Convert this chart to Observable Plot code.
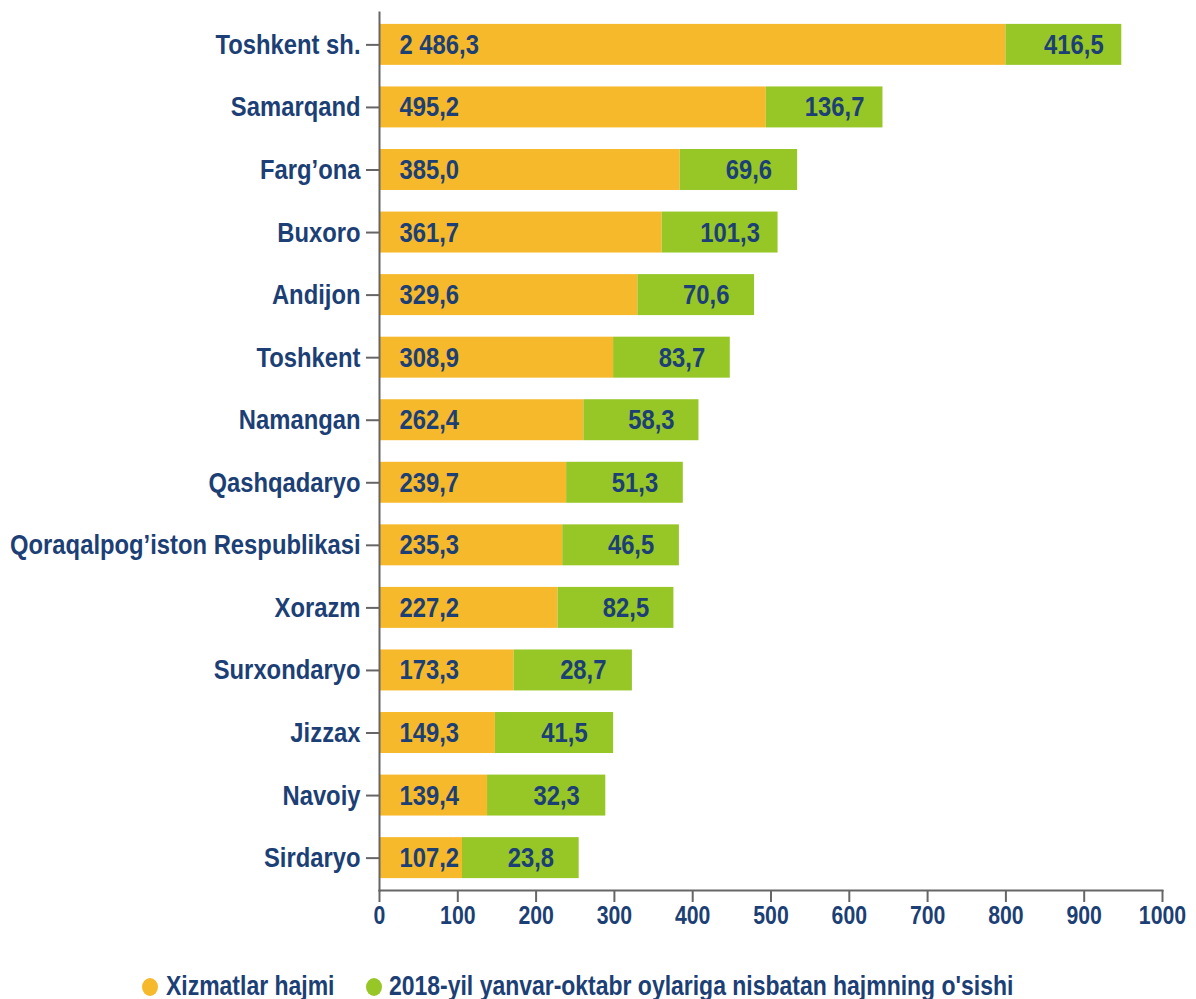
<!DOCTYPE html>
<html>
<head>
<meta charset="utf-8">
<script src="https://cdn.jsdelivr.net/npm/d3@7"></script>
<script src="https://cdn.jsdelivr.net/npm/@observablehq/plot@0.6"></script>
<style>
  body { margin: 0; background: #fff; font-family: "Liberation Sans", Arial, sans-serif; }
  #legend { position: relative; height: 49px; font-weight: bold; font-size: 28px; color: #1c3f75; }
  .item { position: absolute; top: 22px; line-height: 28px; white-space: nowrap; transform: scaleX(0.82); transform-origin: 0 50%; }
  .dot { position: absolute; width: 16px; height: 18px; border-radius: 50%; top: 28px; }
</style>
</head>
<body>
<div id="chart"></div>
<div id="legend"></div>
<script>
const regions = ["Toshkent sh.", "Samarqand", "Farg’ona", "Buxoro", "Andijon", "Toshkent", "Namangan", "Qashqadaryo", "Qoraqalpog’iston Respublikasi", "Xorazm", "Surxondaryo", "Jizzax", "Navoiy", "Sirdaryo"];
const services = [2486.3, 495.2, 385.0, 361.7, 329.6, 308.9, 262.4, 239.7, 235.3, 227.2, 173.3, 149.3, 139.4, 107.2];
const growth = [416.5, 136.7, 69.6, 101.3, 70.6, 83.7, 58.3, 51.3, 46.5, 82.5, 28.7, 41.5, 32.3, 23.8];
// bar extents as drawn in the reference (axis units)
const servicesDrawn = [800, 494, 384, 361, 330, 299, 261, 239, 234, 228, 172, 148, 138, 106];
const growthDrawn = [148, 149, 150, 148, 149, 149, 147, 149, 149, 148, 151, 151, 151, 149];
const xTicks = [0, 100, 200, 300, 400, 500, 600, 700, 800, 900, 1000];
const seriesNames = ["Xizmatlar hajmi", "2018-yil yanvar-oktabr oylariga nisbatan hajmning o'sishi"];
const colors = ["#f6b92b", "#97c627"];

const fmt = v => {
  const s = v.toFixed(1).replace(".", ",");
  const [i, d] = s.split(",");
  return i.replace(/\B(?=(\d{3})+(?!\d))/g, " ") + "," + d;
};

const rows = regions.map((r, i) => ({
  region: r,
  s: services[i], g: growth[i],
  s1: servicesDrawn[i], g2: servicesDrawn[i] + growthDrawn[i]
}));

const navy = "#1c3f75";
const font = "'Liberation Sans', Arial, sans-serif";

const chart = Plot.plot({
  width: 1196,
  height: 950,
  marginLeft: 379,
  marginRight: 34,
  marginTop: 12,
  marginBottom: 60,
  style: { fontFamily: font, background: "#fff" },
  x: { domain: [0, 1000], ticks: xTicks },
  y: { domain: regions, paddingInner: 0.345, paddingOuter: 0.19, round: false },
  marks: [
    Plot.barX(rows, { y: "region", x1: 0, x2: "s1", fill: colors[0] }),
    Plot.barX(rows, { y: "region", x1: "s1", x2: "g2", fill: colors[1] }),
    Plot.text(rows, { y: "region", x: 0, dx: 20, text: d => fmt(d.s), textAnchor: "start", fill: navy, fontSize: 28, fontWeight: "bold" }),
    Plot.text(rows, { y: "region", x: d => (d.s1 + d.g2) / 2, dx: 10, text: d => fmt(d.g), textAnchor: "middle", fill: navy, fontSize: 28, fontWeight: "bold" }),
    Plot.axisY({ tickSize: 13, tickPadding: 6, stroke: "#666", strokeWidth: 2, fill: navy, fontSize: 28, fontWeight: "bold", label: null }),
    Plot.axisX({ ticks: xTicks, tickSize: 12, tickPadding: 4, stroke: "#666", strokeWidth: 2, fill: navy, fontSize: 25, fontWeight: "bold", label: null, tickFormat: d => String(d) }),
    Plot.frame({ anchor: "left", stroke: "#666", strokeWidth: 2 }),
    Plot.frame({ anchor: "bottom", stroke: "#666", strokeWidth: 2 })
  ]
});
document.getElementById("chart").appendChild(chart);

// condense glyphs horizontally to mimic a narrow typeface
chart.querySelectorAll("text").forEach(el => {
  const L = el.getComputedTextLength();
  if (L > 0) {
    el.setAttribute("textLength", (L * 0.85).toFixed(2));
    el.setAttribute("lengthAdjust", "spacingAndGlyphs");
  }
});

const legend = document.getElementById("legend");
const pos = [{ dot: 142, text: 166 }, { dot: 366, text: 389 }];
seriesNames.forEach((name, i) => {
  const dot = document.createElement("div");
  dot.className = "dot";
  dot.style.left = pos[i].dot + "px";
  dot.style.background = colors[i];
  legend.appendChild(dot);
  const t = document.createElement("div");
  t.className = "item";
  t.style.left = pos[i].text + "px";
  t.textContent = name;
  legend.appendChild(t);
});
</script>
</body>
</html>
